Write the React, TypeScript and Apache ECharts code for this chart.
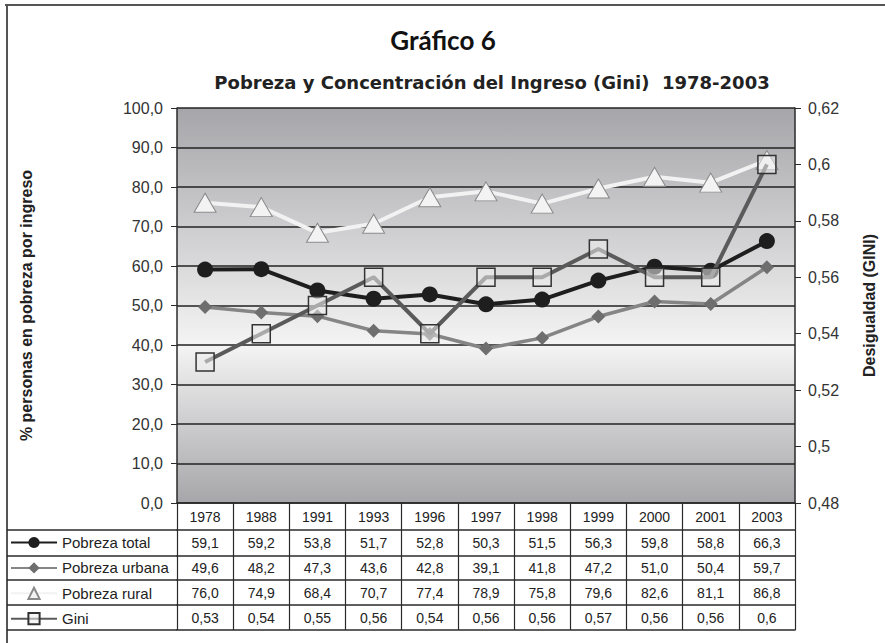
import React, { useEffect, useRef } from 'react';
import * as echarts from 'echarts';

const years = ['1978', '1988', '1991', '1993', '1996', '1997', '1998', '1999', '2000', '2001', '2003'];
const pobrezaTotal = [59.1, 59.2, 53.8, 51.7, 52.8, 50.3, 51.5, 56.3, 59.8, 58.8, 66.3];
const pobrezaUrbana = [49.6, 48.2, 47.3, 43.6, 42.8, 39.1, 41.8, 47.2, 51.0, 50.4, 59.7];
const pobrezaRural = [76.0, 74.9, 68.4, 70.7, 77.4, 78.9, 75.8, 79.6, 82.6, 81.1, 86.8];
const gini = [0.53, 0.54, 0.55, 0.56, 0.54, 0.56, 0.56, 0.57, 0.56, 0.56, 0.6];
const seriesNames = ['Pobreza total', 'Pobreza urbana', 'Pobreza rural', 'Gini'];

const FONT = '"Liberation Sans", Arial, sans-serif';
const W = 885;
const H = 643;
const GRID_LEFT = 177;
const GRID_RIGHT_X = 797;
const GRID_TOP = 108;
const GRID_BOTTOM_Y = 503;
// table row line offsets below the plot bottom
const ROW_OFFSETS = [27, 53, 77, 102, 127];

const fmt1 = (v: number) => v.toFixed(1).replace('.', ',');
const fmtG = (v: number) => String(v).replace('.', ',');

export default function App() {
  const ref = useRef<HTMLDivElement>(null);

  useEffect(() => {
    document.body.style.margin = '0';
    if (!ref.current) return;
    const chart = echarts.init(ref.current, undefined, { renderer: 'svg' });

    const rows = [
      pobrezaTotal.map(fmt1),
      pobrezaUrbana.map(fmt1),
      pobrezaRural.map(fmt1),
      gini.map(fmtG),
    ];

    const lineCol = '#2a2a2a';
    const labelBase = { fontFamily: FONT, fontSize: 14, color: '#222' };

    const xAxes: any[] = [
      {
        type: 'category',
        data: years,
        position: 'bottom',
        boundaryGap: true,
        axisLine: { show: true, lineStyle: { color: lineCol, width: 1.5 } },
        axisTick: { show: true, interval: 0, length: ROW_OFFSETS[0], lineStyle: { color: lineCol, width: 1.2 } },
        axisLabel: { ...labelBase, interval: 0, margin: 7 },
        splitLine: { show: false },
      },
    ];
    rows.forEach((row, i) => {
      const len = ROW_OFFSETS[i + 1] - ROW_OFFSETS[i];
      xAxes.push({
        type: 'category',
        data: years,
        position: 'bottom',
        offset: ROW_OFFSETS[i],
        boundaryGap: true,
        axisLine: { show: true, lineStyle: { color: lineCol, width: 1.5 } },
        axisTick: { show: true, interval: 0, length: len, lineStyle: { color: lineCol, width: 1.2 } },
        axisLabel: {
          ...labelBase,
          interval: 0,
          margin: Math.round((len - 14) / 2),
          formatter: (_v: string, idx: number) => row[idx],
        },
        splitLine: { show: false },
      });
    });
    xAxes.push({
      type: 'category',
      data: years,
      position: 'bottom',
      offset: ROW_OFFSETS[ROW_OFFSETS.length - 1],
      axisLine: { show: true, lineStyle: { color: lineCol, width: 1.5 } },
      axisTick: { show: false },
      axisLabel: { show: false },
      splitLine: { show: false },
    });

    const graphics: any[] = [
      { type: 'line', shape: { x1: 5, y1: 5, x2: W, y2: 5 }, style: { stroke: '#555', lineWidth: 2 } },
      { type: 'line', shape: { x1: 7, y1: 5, x2: 7, y2: H }, style: { stroke: '#555', lineWidth: 2 } },
      {
        type: 'text',
        x: 443,
        y: 40,
        style: {
          text: 'Gráfico 6',
          fontFamily: 'Lato, "Open Sans", sans-serif',
          fontWeight: 'bold',
          fontSize: 26,
          fill: '#111',
          align: 'center',
          verticalAlign: 'middle',
        },
      },
      {
        type: 'text',
        x: 492,
        y: 82,
        style: {
          text: 'Pobreza y Concentración del Ingreso (Gini)  1978-2003',
          fontFamily: '"DejaVu Sans", sans-serif',
          fontWeight: 'bold',
          fontSize: 18,
          fill: '#222',
          align: 'center',
          verticalAlign: 'middle',
        },
      },
    ];
    ROW_OFFSETS.forEach((o) => {
      graphics.push({
        type: 'line',
        shape: { x1: 7, y1: GRID_BOTTOM_Y + o, x2: GRID_LEFT, y2: GRID_BOTTOM_Y + o },
        style: { stroke: lineCol, lineWidth: 1.5 },
      });
    });

    const option: any = {
      animation: false,
      backgroundColor: '#fff',
      grid: {
        left: GRID_LEFT,
        right: W - GRID_RIGHT_X,
        top: GRID_TOP,
        bottom: H - GRID_BOTTOM_Y,
        show: true,
        borderWidth: 0,
        backgroundColor: new echarts.graphic.LinearGradient(0, 0, 0, 1, [
          { offset: 0, color: '#a6a6aa' },
          { offset: 0.6, color: '#f4f4f4' },
          { offset: 1, color: '#a6a6aa' },
        ]),
      },
      legend: {
        data: seriesNames,
        orient: 'vertical',
        left: 10,
        top: 535,
        padding: 0,
        itemWidth: 46,
        itemHeight: 14,
        itemGap: 10.4,
        textStyle: { fontFamily: FONT, fontSize: 15, color: '#222' },
        selectedMode: false,
      },
      xAxis: xAxes,
      yAxis: [
        {
          type: 'value',
          min: 0,
          max: 100,
          interval: 10,
          position: 'left',
          name: '% personas en pobreza por ingreso',
          nameLocation: 'middle',
          nameRotate: 90,
          nameGap: 143,
          nameTextStyle: { fontFamily: FONT, fontWeight: 'bold', fontSize: 16, color: '#222' },
          axisLine: { show: true, lineStyle: { color: lineCol, width: 1.5 } },
          axisTick: { show: true, length: 6, lineStyle: { color: lineCol } },
          axisLabel: { fontFamily: FONT, fontSize: 16, color: '#333', margin: 14, formatter: (v: number) => fmt1(v) },
          splitLine: { show: true, lineStyle: { color: '#222', width: 1.5 } },
        },
        {
          type: 'value',
          min: 0.48,
          max: 0.62,
          interval: 0.02,
          position: 'right',
          name: 'Desigualdad (GINI)',
          nameLocation: 'middle',
          nameRotate: 90,
          nameGap: 66,
          nameTextStyle: { fontFamily: FONT, fontWeight: 'bold', fontSize: 16, color: '#222' },
          axisLine: { show: true, lineStyle: { color: lineCol, width: 1.5 } },
          axisTick: { show: true, length: 6, lineStyle: { color: lineCol } },
          axisLabel: {
            fontFamily: FONT,
            fontSize: 16,
            color: '#333',
            margin: 13,
            formatter: (v: number) => fmtG(Number(v.toFixed(2))),
          },
          splitLine: { show: false },
        },
      ],
      series: [
        {
          name: 'Pobreza rural',
          type: 'line',
          data: pobrezaRural,
          yAxisIndex: 0,
          symbol: 'triangle',
          symbolSize: [22, 19],
          lineStyle: { color: '#f2f2f2', width: 4 },
          itemStyle: { color: '#f3f3f3', borderColor: '#8a8a8a', borderWidth: 1 },
          z: 2,
        },
        {
          name: 'Pobreza urbana',
          type: 'line',
          data: pobrezaUrbana,
          yAxisIndex: 0,
          symbol: 'diamond',
          symbolSize: 14,
          lineStyle: { color: '#858585', width: 3.5 },
          itemStyle: { color: '#6e6e6e' },
          z: 3,
        },
        {
          name: 'Pobreza total',
          type: 'line',
          data: pobrezaTotal,
          yAxisIndex: 0,
          symbol: 'circle',
          symbolSize: 16,
          lineStyle: { color: '#1e1e1e', width: 4 },
          itemStyle: { color: '#1e1e1e' },
          z: 4,
        },
        {
          name: 'Gini',
          type: 'line',
          data: gini,
          yAxisIndex: 1,
          symbol: 'rect',
          symbolSize: 18,
          lineStyle: { color: '#5a5a5a', width: 4 },
          itemStyle: { color: 'rgba(236,236,236,0.55)', borderColor: '#333', borderWidth: 1.5 },
          z: 5,
        },
      ],
      graphic: graphics,
    };

    chart.setOption(option);
    return () => chart.dispose();
  }, []);

  return (
    <div
      ref={ref}
      style={{ position: 'fixed', left: 0, top: 0, width: W, height: H }}
    />
  );
}
